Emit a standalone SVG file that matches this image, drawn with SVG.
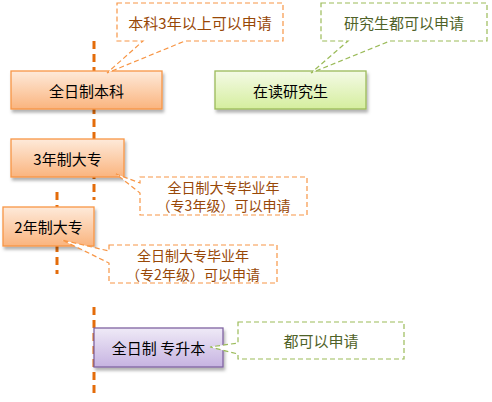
<svg xmlns="http://www.w3.org/2000/svg" width="492" height="402" viewBox="0 0 492 402">
<style>
text{font-family:"Noto Sans CJK SC","Noto Sans",sans-serif;font-size:15px;text-anchor:middle;dominant-baseline:central}
.node text{fill:#000}
.vline{stroke:#E46C0A;stroke-width:3;stroke-dasharray:8 5;fill:none}
.co{fill:#fff;stroke-width:1.2;stroke-dasharray:5 3}
.coO{stroke:#F79646}
.coG{stroke:#9BBB59}
.tO{fill:#984807}
.tG{fill:#4F6228}
.two{font-size:14px}
.box{stroke-width:1.3;filter:url(#sh)}
</style>
<defs>
<linearGradient id="gO" x1="0" y1="0" x2="0" y2="1"><stop offset="0" stop-color="#FEEADA"/><stop offset="1" stop-color="#FAB47E"/></linearGradient>
<linearGradient id="gG" x1="0" y1="0" x2="0" y2="1"><stop offset="0" stop-color="#F4FAE6"/><stop offset="1" stop-color="#D5EE9E"/></linearGradient>
<linearGradient id="gP" x1="0" y1="0" x2="0" y2="1"><stop offset="0" stop-color="#EFEAF7"/><stop offset="1" stop-color="#C6B3E1"/></linearGradient>
<filter id="sh" x="-10%" y="-20%" width="130%" height="160%"><feDropShadow dx="1.5" dy="3" stdDeviation="1.8" flood-color="#000" flood-opacity="0.3"/></filter>
</defs>
<g id="connectors">
<line class="vline" x1="94" y1="41" x2="94" y2="200"/>
<line class="vline" x1="57" y1="192" x2="57" y2="274"/>
<line class="vline" x1="94" y1="307" x2="94" y2="398"/>
</g>
<g id="n1" class="node"><rect class="box" x="11" y="71" width="151" height="38" fill="url(#gO)" stroke="#F79646"/><text x="86.5" y="90">全日制本科</text></g>
<g id="n2" class="node"><rect class="box" x="215" y="71" width="151" height="38" fill="url(#gG)" stroke="#9BBB59"/><text x="290.5" y="90">在读研究生</text></g>
<g id="n3" class="node"><rect class="box" x="11" y="139" width="113" height="38" fill="url(#gO)" stroke="#F79646"/><text x="67.5" y="158">3年制大专</text></g>
<g id="n4" class="node"><rect class="box" x="3" y="207" width="91" height="39" fill="url(#gO)" stroke="#F79646"/><text x="48.5" y="226">2年制大专</text></g>
<g id="n5" class="node"><rect class="box" x="94" y="328" width="129" height="39" fill="url(#gP)" stroke="#8064A2"/><text x="158.5" y="347">全日制  专升本</text></g>
<g id="c1"><path class="co coO" d="M117,3 H283 V41 H185 L107,73 L143,41 H117 Z"/><text class="tO" x="200" y="22">本科3年以上可以申请</text></g>
<g id="c2"><path class="co coG" d="M321,3 H487 V41 H390 L311,73 L348,41 H321 Z"/><text class="tG" x="404" y="22">研究生都可以申请</text></g>
<g id="c3"><path class="co coO" d="M140,177 H307 V215 H140 V193 L116,174 L140,183 Z"/><text class="tO two" x="223.5" y="186.5">全日制大专毕业年</text><text class="tO two" x="223.5" y="205">（专3年级）可以申请</text></g>
<g id="c4"><path class="co coO" d="M109,245 H277 V283 H109 V263 L62,240 L109,251 Z"/><text class="tO two" x="193" y="254.5">全日制大专毕业年</text><text class="tO two" x="193" y="273.5">（专2年级）可以申请</text></g>
<g id="c5"><path class="co coG" d="M238,322 H404 V359 H238 V354 L210,347 L238,343 Z"/><text class="tG" x="321" y="340">都可以申请</text></g>
</svg>
